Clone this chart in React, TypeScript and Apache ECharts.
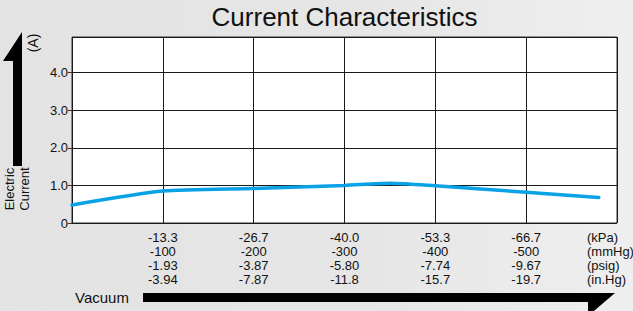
import React, { useEffect, useRef } from "react";
import * as echarts from "echarts";

const title = "Current Characteristics";
const kPa = ["-13.3", "-26.7", "-40.0", "-53.3", "-66.7"];
const mmHg = ["-100", "-200", "-300", "-400", "-500"];
const psig = ["-1.93", "-3.87", "-5.80", "-7.74", "-9.67"];
const inHg = ["-3.94", "-7.87", "-11.8", "-15.7", "-19.7"];
const units = ["(kPa)", "(mmHg)", "(psig)", "(in.Hg)"];
const yTicks = ["0", "1.0", "2.0", "3.0", "4.0"];
const curveX = [0, 1, 2, 3, 3.5, 4, 5, 5.8];
const curveY = [0.48, 0.85, 0.92, 1.0, 1.06, 0.99, 0.82, 0.68];

const FONT = "'Liberation Sans', Arial, Helvetica, sans-serif";

export default function App() {
  const ref = useRef<HTMLDivElement>(null);
  useEffect(() => {
    document.body.style.margin = "0";
    const chart = echarts.init(ref.current!, null, { renderer: "svg" });
    chart.setOption({
      animation: false,
      backgroundColor: "transparent",
      grid: {
        left: 72,
        right: 16,
        top: 37,
        bottom: 88,
        show: true,
        backgroundColor: "#ffffff",
        borderColor: "#333",
        borderWidth: 1,
      },
      xAxis: {
        type: "value",
        min: 0,
        max: 6,
        interval: 1,
        axisLine: { show: false },
        axisTick: { show: false },
        splitLine: { show: true, lineStyle: { color: "#1a1a1a", width: 1 } },
        axisLabel: {
          margin: 7,
          fontFamily: FONT,
          fontSize: 13,
          lineHeight: 14,
          color: "#111",
          formatter: (v: number) => {
            const i = Math.round(v) - 1;
            if (i < 0 || i >= kPa.length) return "";
            return [kPa[i], mmHg[i], psig[i], inHg[i]].join("\n");
          },
        },
      },
      yAxis: {
        type: "value",
        min: 0,
        max: 4.95,
        interval: 1,
        axisLine: { show: false },
        axisTick: { show: true, length: 4, lineStyle: { color: "#333" } },
        splitLine: { show: true, lineStyle: { color: "#1a1a1a", width: 1 } },
        axisLabel: {
          margin: 4,
          fontFamily: FONT,
          fontSize: 13,
          color: "#111",
          showMaxLabel: false,
          formatter: (v: number) => {
            const r = Math.round(v);
            if (Math.abs(v - r) > 1e-6) return "";
            return yTicks[r] ?? "";
          },
        },
      },
      series: [
        {
          type: "line",
          data: curveX.map((x, i) => [x, curveY[i]]),
          smooth: 0.22,
          symbol: "none",
          lineStyle: { color: "#0aa2e6", width: 3.5, cap: "round" },
        },
      ],
      graphic: [
        {
          type: "text",
          x: 344.5,
          y: 17,
          style: {
            text: title,
            font: `26px ${FONT}`,
            fill: "#111",
            align: "center",
            verticalAlign: "middle",
          },
        },
        {
          type: "text",
          x: 587,
          y: 230,
          style: {
            text: units.join("\n"),
            font: `13px ${FONT}`,
            lineHeight: 14,
            fill: "#111",
            align: "left",
            verticalAlign: "top",
          },
        },
        {
          type: "polygon",
          shape: {
            points: [
              [22, 32],
              [3, 61],
              [13, 61],
              [13, 166],
              [22, 166],
            ],
          },
          style: { fill: "#000" },
        },
        {
          type: "polygon",
          shape: {
            points: [
              [143, 293],
              [615, 293],
              [588, 316],
              [588, 302],
              [143, 302],
            ],
          },
          style: { fill: "#000" },
        },
        {
          type: "text",
          x: 9,
          y: 189,
          rotation: Math.PI / 2,
          style: {
            text: "Electric",
            font: `13px ${FONT}`,
            fill: "#111",
            align: "center",
            verticalAlign: "middle",
          },
        },
        {
          type: "text",
          x: 24,
          y: 189,
          rotation: Math.PI / 2,
          style: {
            text: "Current",
            font: `13px ${FONT}`,
            fill: "#111",
            align: "center",
            verticalAlign: "middle",
          },
        },
        {
          type: "text",
          x: 33,
          y: 43,
          rotation: Math.PI / 2,
          style: {
            text: "(A)",
            font: `14px ${FONT}`,
            fill: "#111",
            align: "center",
            verticalAlign: "middle",
          },
        },
        {
          type: "text",
          x: 75,
          y: 297,
          style: {
            text: "Vacuum",
            font: `15px ${FONT}`,
            fill: "#111",
            align: "left",
            verticalAlign: "middle",
          },
        },
      ],
    });
    return () => chart.dispose();
  }, []);
  return (
    <div
      style={{
        position: "fixed",
        left: 0,
        top: 0,
        width: 633,
        height: 311,
        background: "linear-gradient(to right, #e3e3e3 0%, #e6e6e6 60%, #efefef 100%)",
      }}
    >
      <div ref={ref} style={{ width: 633, height: 311 }} />
    </div>
  );
}
